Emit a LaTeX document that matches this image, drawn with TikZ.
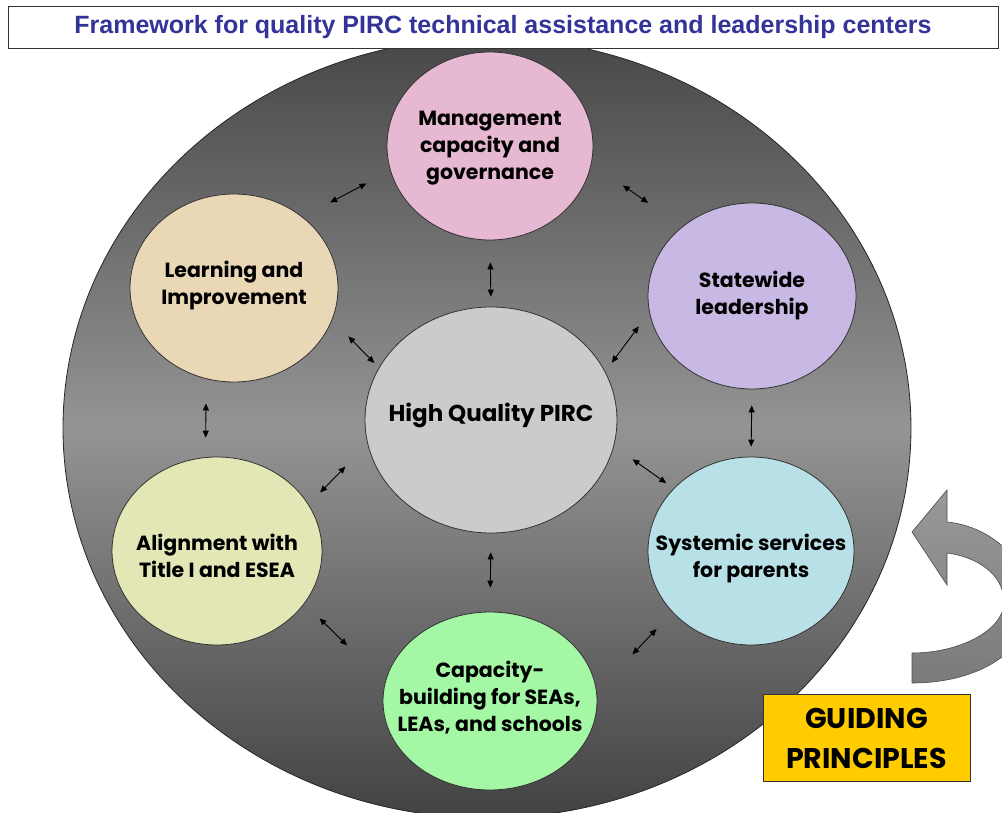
\documentclass[tikz,border=0pt]{standalone}
\usepackage{xcolor}
\usepackage{fontspec}
\usepackage{tikz}
\usetikzlibrary{shapes,arrows.meta,positioning,calc}

\newfontfamily\titlefont{Liberation Sans}
\newfontfamily\gothic{Poppins}

\definecolor{titleblue}{HTML}{333399}
\definecolor{mgmtc}{HTML}{E6B8D1}
\definecolor{learnc}{HTML}{E9D7B6}
\definecolor{statec}{HTML}{C8B8E4}
\definecolor{systc}{HTML}{B7E1E7}
\definecolor{hqc}{HTML}{CBCACC}
\definecolor{capc}{HTML}{A4F7A4}
\definecolor{alignc}{HTML}{E3E7B6}
\definecolor{guidec}{HTML}{FFCC00}

\begin{document}
\begin{tikzpicture}[
		x=1pt, y=-1pt,
		bub/.style={ellipse, draw=black!80, line width=0.8pt, inner sep=0pt},
		txt/.style={align=center, inner sep=0pt, font=\gothic\bfseries\fontsize{20.5}{27}\selectfont},
		dbl/.style={{Triangle[length=7pt,width=6pt]}-{Triangle[length=7pt,width=6pt]}, line width=0.9pt},
	]
	\useasboundingbox (0,0) rectangle (1002,813);
	\clip (0,0) rectangle (1002,813);

	% big ring behind everything
	\shade[top color=black!72, bottom color=black!74, middle color=black!42, draw=black!85, line width=0.8pt]
		(487,428) ellipse (424 and 390);

	% the seven bubbles
	\node[bub, fill=mgmtc, minimum width=206pt, minimum height=188pt] (mgmt) at (490,146) {};
	\node[bub, fill=learnc, minimum width=208pt, minimum height=188pt] (learn) at (234,288) {};
	\node[bub, fill=statec, minimum width=208pt, minimum height=186pt] (state) at (752,296) {};
	\node[bub, fill=hqc, minimum width=252pt, minimum height=226pt] (hq) at (491,420) {};
	\node[bub, fill=alignc, minimum width=210pt, minimum height=188pt] (align) at (217,551) {};
	\node[bub, fill=systc, minimum width=206pt, minimum height=188pt] (syst) at (751,551) {};
	\node[bub, fill=capc, minimum width=214pt, minimum height=178pt] (cap) at (490,701) {};

	\node[txt, yshift=-2pt] (mgmt-t) at (mgmt) {Management\\capacity and\\governance};
	\node[txt, yshift=2pt] (learn-t) at (learn) {Learning and\\Improvement};
	\node[txt] (state-t) at (state) {Statewide\\leadership};
	\node[txt, yshift=5pt, font=\gothic\bfseries\fontsize{23}{27}\selectfont] (hq-t) at (hq) {High Quality PIRC};
	\node[txt, yshift=-5pt] (align-t) at (align) {Alignment with\\Title I and ESEA};
	\node[txt, yshift=-8pt] (syst-t) at (syst) {Systemic services\\for parents};
	\node[txt, yshift=3pt] (cap-t) at (cap) {Capacity-\\building for SEAs,\\LEAs, and schools};

	% links between bubbles
	\draw[dbl, shorten <=31pt, shorten >=27pt] (learn.46) -- (mgmt.194);
	\draw[dbl, shorten <=38pt, shorten >=41.5pt] (mgmt.350) -- (state.135);
	\draw[dbl, shorten <=22pt, shorten >=10pt] (mgmt.south) -- (hq.north);
	\draw[dbl, shorten <=23pt, shorten >=6.5pt] (learn.342) -- (hq.155);
	\draw[dbl, shorten <=17.5pt, shorten >=11pt] (state.189) -- (hq.23);
	\draw[dbl, shorten <=24.5pt, shorten >=19.5pt] (learn.253) -- (align.97);
	\draw[dbl, shorten <=16pt, shorten >=10pt] (state.south) -- (syst.north);
	\draw[dbl, shorten <=31.5pt, shorten >=16.5pt] (hq.191) -- (align.27);
	\draw[dbl, shorten <=22.7pt, shorten >=9pt] (hq.348) -- (syst.141.5);
	\draw[dbl, shorten <=19pt, shorten >=24pt] (hq.south) -- (cap.north);
	\draw[dbl, shorten <=21pt, shorten >=53pt] (align.329) -- (cap.170);
	\draw[dbl, shorten <=23pt, shorten >=51.5pt] (syst.218) -- (cap.5);

	% turning arrow on the right
	\shade[top color=black!40, bottom color=black!52, draw=black!70, line width=0.6pt]
		(912,653) -- (912,683)
		.. controls (980,683) and (1030,650) .. (1030,605)
		.. controls (1030,560) and (990,526) .. (947,522)
		-- (947,490) -- (912,532) -- (947,585) -- (947,553)
		.. controls (978,557) and (1004,575) .. (1004,602)
		.. controls (1004,630) and (960,653) .. (912,653) -- cycle;

	\node[draw=black!80, fill=guidec, minimum width=207pt, minimum height=87pt, inner sep=0pt,
		align=center, font=\gothic\bfseries\fontsize{28.5}{40}\selectfont] (guide) at (866.5,738) {GUIDING\\PRINCIPLES};

	% title bar
	\node[draw=black!80, fill=white, line width=0.8pt, minimum width=990pt, minimum height=42pt, inner sep=0pt,
		text=titleblue, font=\titlefont\bfseries\fontsize{25}{28}\selectfont] (title) at (503,27)
		{Framework for quality PIRC technical assistance and leadership centers};
\end{tikzpicture}
\end{document}
